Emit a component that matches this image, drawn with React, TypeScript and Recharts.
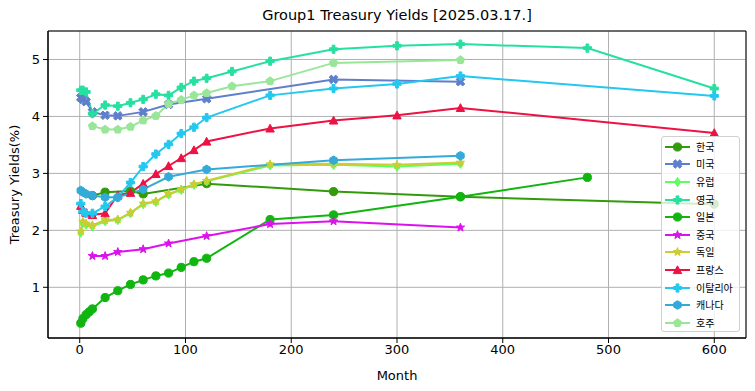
import React from "react";
import {
  LineChart,
  Line,
  XAxis,
  YAxis,
  CartesianGrid,
  ReferenceArea,
} from "recharts";

const FONT = "'DejaVu Sans', sans-serif";
const KFONT = "'Noto Sans CJK KR', 'DejaVu Sans', sans-serif";

// months to maturity + yields (%) per country
const krMonths = [12, 24, 48, 60, 120, 240, 360, 600];
const krYields = [2.61, 2.67, 2.69, 2.64, 2.82, 2.68, 2.59, 2.46];

const usMonths = [1, 3, 6, 12, 24, 36, 60, 84, 120, 240, 360];
const usYields = [4.33, 4.3, 4.26, 4.08, 4.02, 4.01, 4.08, 4.21, 4.31, 4.65, 4.61];

const euMonths = [1, 3, 6, 12, 24, 36, 48, 60, 72, 84, 96, 108, 120, 180, 240, 300, 360];
const euYields = [1.96, 2.14, 2.1, 2.07, 2.16, 2.18, 2.3, 2.46, 2.5, 2.63, 2.71, 2.8, 2.86, 3.14, 3.15, 3.12, 3.17];

const ukMonths = [1, 3, 6, 12, 24, 36, 48, 60, 72, 84, 96, 108, 120, 144, 180, 240, 300, 360, 480, 600];
const ukYields = [4.46, 4.46, 4.43, 4.05, 4.2, 4.18, 4.24, 4.3, 4.39, 4.37, 4.51, 4.62, 4.67, 4.79, 4.97, 5.18, 5.24, 5.27, 5.2, 4.49];

const jpMonths = [1, 3, 6, 9, 12, 24, 36, 48, 60, 72, 84, 96, 108, 120, 180, 240, 360, 480];
const jpYields = [0.37, 0.45, 0.52, 0.57, 0.62, 0.82, 0.94, 1.05, 1.13, 1.2, 1.25, 1.35, 1.45, 1.51, 2.19, 2.27, 2.59, 2.93];

const cnMonths = [12, 24, 36, 60, 84, 120, 180, 240, 360];
const cnYields = [1.55, 1.55, 1.62, 1.67, 1.77, 1.9, 2.11, 2.16, 2.05];

const deMonths = [1, 3, 6, 12, 24, 36, 48, 60, 72, 84, 96, 108, 120, 180, 240, 300, 360];
const deYields = [1.98, 2.15, 2.12, 2.09, 2.18, 2.19, 2.31, 2.47, 2.51, 2.64, 2.72, 2.81, 2.87, 3.16, 3.17, 3.15, 3.19];

const frMonths = [1, 3, 6, 12, 24, 36, 48, 60, 72, 84, 96, 108, 120, 180, 240, 300, 360, 600];
const frYields = [2.43, 2.36, 2.31, 2.27, 2.3, 2.62, 2.66, 2.82, 2.99, 3.13, 3.27, 3.41, 3.56, 3.79, 3.93, 4.02, 4.15, 3.71];

const itMonths = [1, 3, 6, 12, 24, 36, 48, 60, 72, 84, 96, 108, 120, 180, 240, 300, 360, 600];
const itYields = [2.47, 2.33, 2.3, 2.3, 2.42, 2.58, 2.84, 3.12, 3.34, 3.51, 3.7, 3.81, 3.98, 4.37, 4.49, 4.57, 4.71, 4.36];

const caMonths = [1, 3, 6, 12, 24, 36, 60, 84, 120, 240, 360];
const caYields = [2.7, 2.67, 2.64, 2.61, 2.58, 2.58, 2.72, 2.94, 3.07, 3.23, 3.31];

const auMonths = [12, 24, 36, 48, 60, 72, 84, 96, 108, 120, 144, 180, 240, 360];
const auYields = [3.83, 3.77, 3.77, 3.82, 3.93, 4.01, 4.22, 4.29, 4.37, 4.41, 4.53, 4.62, 4.94, 4.99];

const xTicks = [0, 100, 200, 300, 400, 500, 600];
const yTicks = [1, 2, 3, 4, 5];

type Shape = "o" | "X" | "d" | "P" | "*" | "^" | "h" | "p";

const toRows = (m: number[], v: number[]) => m.map((x, i) => ({ m: x, v: v[i] }));

const series = [
  { name: "한국", color: "#339a0c", shape: "o" as Shape, data: toRows(krMonths, krYields) },
  { name: "미국", color: "#5f7fcc", shape: "X" as Shape, data: toRows(usMonths, usYields) },
  { name: "유럽", color: "#5cff5c", shape: "d" as Shape, data: toRows(euMonths, euYields) },
  { name: "영국", color: "#26e0a0", shape: "P" as Shape, data: toRows(ukMonths, ukYields) },
  { name: "일본", color: "#10b510", shape: "o" as Shape, data: toRows(jpMonths, jpYields) },
  { name: "중국", color: "#dd11ee", shape: "*" as Shape, data: toRows(cnMonths, cnYields) },
  { name: "독일", color: "#cccc33", shape: "*" as Shape, data: toRows(deMonths, deYields) },
  { name: "프랑스", color: "#ee1144", shape: "^" as Shape, data: toRows(frMonths, frYields) },
  { name: "이탈리아", color: "#22c8f0", shape: "P" as Shape, data: toRows(itMonths, itYields) },
  { name: "캐나다", color: "#33aad8", shape: "h" as Shape, data: toRows(caMonths, caYields) },
  { name: "호주", color: "#99e699", shape: "p" as Shape, data: toRows(auMonths, auYields) },
];

const poly = (pts: number[][], cx: number, cy: number) =>
  pts.map(([x, y]) => `${(cx + x).toFixed(2)},${(cy + y).toFixed(2)}`).join(" ");

const regular = (n: number, r: number, rot: number) =>
  Array.from({ length: n }, (_, i) => {
    const a = rot + (i * 2 * Math.PI) / n;
    return [r * Math.sin(a), -r * Math.cos(a)];
  });

const plusPts = (L: number, w: number) => [
  [-w, -L], [w, -L], [w, -w], [L, -w], [L, w], [w, w],
  [w, L], [-w, L], [-w, w], [-L, w], [-L, -w], [-w, -w],
];

function Marker({ cx, cy, shape, color }: { cx: number; cy: number; shape: Shape; color: string }) {
  const common = { fill: color, stroke: color, strokeWidth: 1, strokeLinejoin: "miter" as const };
  switch (shape) {
    case "o":
      return <circle cx={cx} cy={cy} r={4.1} {...common} />;
    case "X": {
      const c = Math.SQRT1_2;
      const pts = plusPts(4.6, 1.5).map(([x, y]) => [c * (x - y), c * (x + y)]);
      return <polygon points={poly(pts, cx, cy)} {...common} />;
    }
    case "d":
      return <polygon points={poly([[0, -4.6], [3, 0], [0, 4.6], [-3, 0]], cx, cy)} {...common} />;
    case "P":
      return <polygon points={poly(plusPts(4.1, 1.4), cx, cy)} {...common} />;
    case "*": {
      const pts: number[][] = [];
      for (let i = 0; i < 10; i++) {
        const r = i % 2 === 0 ? 4.4 : 1.8;
        const a = (i * Math.PI) / 5;
        pts.push([r * Math.sin(a), -r * Math.cos(a)]);
      }
      return <polygon points={poly(pts, cx, cy)} {...common} />;
    }
    case "^":
      return <polygon points={poly([[0, -4.2], [4.2, 3.6], [-4.2, 3.6]], cx, cy)} {...common} />;
    case "h":
      return <polygon points={poly(regular(6, 4.3, 0), cx, cy)} {...common} />;
    case "p":
      return <polygon points={poly(regular(5, 4.3, 0), cx, cy)} {...common} />;
  }
  return null;
}

function LegendBox() {
  return (
    <div
      style={{
        position: "absolute",
        left: 661,
        top: 136,
        width: 79,
        height: 196,
        boxSizing: "border-box",
        background: "rgba(255,255,255,0.8)",
        border: "1px solid #d0d0d0",
        borderRadius: 3,
        paddingTop: 1,
      }}
    >
      {series.map((s) => (
        <div key={s.name} style={{ display: "flex", alignItems: "center", height: 17.6 }}>
          <svg width={30} height={14} style={{ marginLeft: 1, flex: "none" }}>
            <line x1={2} y1={7} x2={27} y2={7} stroke={s.color} strokeWidth={2} />
            <Marker cx={14.5} cy={7} shape={s.shape} color={s.color} />
          </svg>
          <span
            style={{
              fontFamily: KFONT,
              fontSize: 10,
              marginLeft: 3,
              color: "#000",
              lineHeight: "12px",
              whiteSpace: "nowrap",
            }}
          >
            {s.name}
          </span>
        </div>
      ))}
    </div>
  );
}

export default function App() {
  return (
    <div style={{ position: "absolute", left: 0, top: 0, width: 755, height: 391, background: "#fff" }}>
      <div
        style={{
          position: "absolute",
          top: 7,
          left: 0,
          width: 794,
          textAlign: "center",
          fontFamily: FONT,
          fontSize: 14.5,
          color: "#000",
        }}
      >
        Group1 Treasury Yields [2025.03.17.]
      </div>
      <LineChart width={755} height={391} margin={{ top: 31, right: 9, bottom: 0, left: 0 }}>
        <CartesianGrid stroke="#b0b0b0" strokeWidth={1} />
        <XAxis
          dataKey="m"
          type="number"
          domain={[-30, 630]}
          ticks={xTicks}
          interval={0}
          allowDataOverflow
          height={53}
          tickSize={5}
          tickMargin={2}
          axisLine={{ stroke: "#000" }}
          tickLine={{ stroke: "#000" }}
          tick={{ fill: "#000", fontSize: 13, fontFamily: FONT }}
          label={{ value: "Month", position: "insideBottom", offset: 11, fill: "#000", fontSize: 13, fontFamily: FONT }}
        />
        <YAxis
          type="number"
          domain={[0.11, 5.5]}
          ticks={yTicks}
          interval={0}
          allowDataOverflow
          width={48}
          tickSize={5}
          tickMargin={3}
          axisLine={{ stroke: "#000" }}
          tickLine={{ stroke: "#000" }}
          tick={{ fill: "#000", fontSize: 13, fontFamily: FONT }}
          label={{
            value: "Treasury Yields(%)",
            angle: -90,
            position: "insideLeft",
            offset: 14,
            style: { textAnchor: "middle" },
            fill: "#000",
            fontSize: 13,
            fontFamily: FONT,
          }}
        />
        {series.map((s) => (
          <Line
            key={s.name}
            name={s.name}
            data={s.data}
            dataKey="v"
            type="linear"
            stroke={s.color}
            strokeWidth={2}
            isAnimationActive={false}
            activeDot={false}
            dot={(p: any) => (
              <Marker key={`${s.name}-${p.index}`} cx={p.cx} cy={p.cy} shape={s.shape} color={s.color} />
            )}
          />
        ))}
        <ReferenceArea x1={-30} x2={630} y1={0.11} y2={5.5} fill="none" stroke="#000" strokeWidth={1} ifOverflow="visible" />
      </LineChart>
      <LegendBox />
    </div>
  );
}
